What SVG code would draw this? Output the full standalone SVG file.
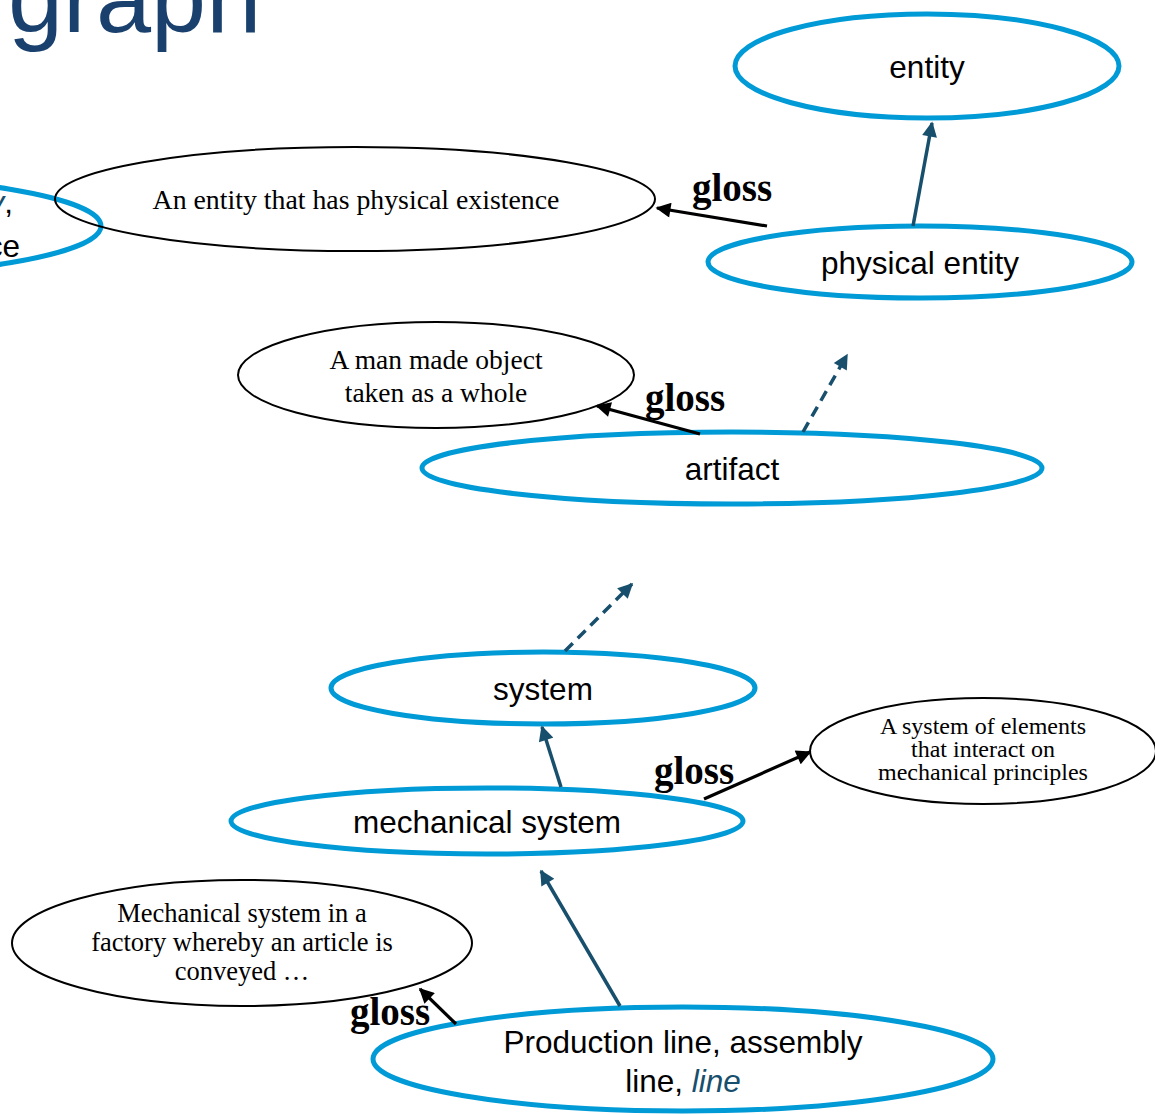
<svg xmlns="http://www.w3.org/2000/svg" width="1155" height="1115" viewBox="0 0 1155 1115">
  <style>
    .syn { fill: none; stroke: #009ad6; stroke-width: 5; }
    .gl { fill: none; stroke: #000; stroke-width: 2; }
    .lbl { font-family: "Liberation Sans", Arial, sans-serif; font-size: 31.5px; fill: #000; text-anchor: middle; }
    .def { font-family: "Liberation Serif", "Times New Roman", serif; fill: #000; text-anchor: middle; }
    .gtxt { font-family: "Liberation Serif", "Times New Roman", serif; font-weight: bold; font-size: 39px; fill: #000; text-anchor: middle; }
    .hyp { stroke: #174f6d; stroke-width: 3.5; fill: none; marker-end: url(#headTeal); }
    .hypd { stroke: #174f6d; stroke-width: 3.5; fill: none; stroke-dasharray: 11 7; marker-end: url(#headTeal); }
    .gar { stroke: #000; stroke-width: 3.2; fill: none; marker-end: url(#headBlack); }
    .em { fill: #174f6d; font-style: italic; }
  </style>
  <defs>
    <marker id="headTeal" viewBox="0 0 10 10" refX="9" refY="5" markerWidth="17" markerHeight="15" markerUnits="userSpaceOnUse" orient="auto">
      <path d="M0,0 L10,5 L0,10 z" fill="#174f6d"/>
    </marker>
    <marker id="headBlack" viewBox="0 0 10 10" refX="9" refY="5" markerWidth="17" markerHeight="15" markerUnits="userSpaceOnUse" orient="auto">
      <path d="M0,0 L10,5 L0,10 z" fill="#000"/>
    </marker>
  </defs>

  <!-- heading -->
  <text x="8" y="32" font-family="'Liberation Sans', Arial, sans-serif" font-size="99" fill="#1a416e">graph</text>

  <!-- partly visible synset on the left edge -->
  <g id="node-left">
    <ellipse class="syn" cx="-210" cy="226" rx="311" ry="52"/>
    <text x="13" y="213" class="lbl" style="text-anchor:end"><tspan class="em">y</tspan>,</text>
    <text x="20" y="257" class="lbl" style="text-anchor:end">ce</text>
  </g>

  <g id="node-entity">
    <ellipse class="syn" cx="927" cy="66" rx="192" ry="52"/>
    <text x="927" y="78" class="lbl">entity</text>
  </g>

  <g id="gloss-physical-entity">
    <ellipse class="gl" cx="355" cy="199" rx="300" ry="52"/>
    <text x="356" y="209" class="def" font-size="27.8">An entity that has physical existence</text>
  </g>

  <g id="node-physical-entity">
    <ellipse class="syn" cx="920" cy="262" rx="212" ry="36"/>
    <text x="920" y="274" class="lbl">physical entity</text>
  </g>

  <g id="gloss-artifact">
    <ellipse class="gl" cx="436" cy="375" rx="198" ry="53"/>
    <text class="def" font-size="27.5"><tspan x="436" y="369">A man made object</tspan><tspan x="436" y="402">taken as a whole</tspan></text>
  </g>

  <g id="node-artifact">
    <ellipse class="syn" cx="732" cy="468" rx="310" ry="36"/>
    <text x="732" y="480" class="lbl">artifact</text>
  </g>

  <g id="node-system">
    <ellipse class="syn" cx="543" cy="688" rx="212" ry="36"/>
    <text x="543" y="700" class="lbl">system</text>
  </g>

  <g id="gloss-mechanical-system">
    <ellipse class="gl" cx="983" cy="751" rx="173" ry="53"/>
    <text class="def" font-size="24"><tspan x="983" y="734">A system of elements</tspan><tspan x="983" y="757">that interact on</tspan><tspan x="983" y="780">mechanical principles</tspan></text>
  </g>

  <g id="node-mechanical-system">
    <ellipse class="syn" cx="487" cy="821" rx="256" ry="33"/>
    <text x="487" y="833" class="lbl">mechanical system</text>
  </g>

  <g id="gloss-production-line">
    <ellipse class="gl" cx="242" cy="943" rx="230" ry="63"/>
    <text class="def" font-size="26.5"><tspan x="242" y="922">Mechanical system in a</tspan><tspan x="242" y="951">factory whereby an article is</tspan><tspan x="242" y="980">conveyed …</tspan></text>
  </g>

  <g id="node-production-line">
    <ellipse class="syn" cx="683" cy="1059" rx="310" ry="52"/>
    <text class="lbl"><tspan x="683" y="1053">Production line, assembly</tspan><tspan x="683" y="1092">line, <tspan class="em">line</tspan></tspan></text>
  </g>

  <!-- connectors: hypernym links and gloss links -->
  <g id="connectors">
    <line class="hyp" x1="913" y1="226" x2="932" y2="123"/>
    <line class="gar" x1="767" y1="226" x2="657" y2="208"/>
    <text x="732" y="201" class="gtxt">gloss</text>

    <line class="hypd" x1="803" y1="432" x2="847" y2="355"/>
    <line class="gar" x1="700" y1="434" x2="597" y2="406"/>
    <text x="685" y="411" class="gtxt">gloss</text>

    <line class="hypd" x1="565" y1="651" x2="632" y2="584"/>

    <line class="hyp" x1="561" y1="787" x2="542" y2="727"/>
    <line class="gar" x1="704" y1="799" x2="810" y2="752"/>
    <text x="694" y="784" class="gtxt">gloss</text>

    <line class="hyp" x1="620" y1="1006" x2="541" y2="871"/>
    <line class="gar" x1="456" y1="1024" x2="420" y2="989"/>
    <text x="390" y="1025" class="gtxt">gloss</text>
  </g>
</svg>
